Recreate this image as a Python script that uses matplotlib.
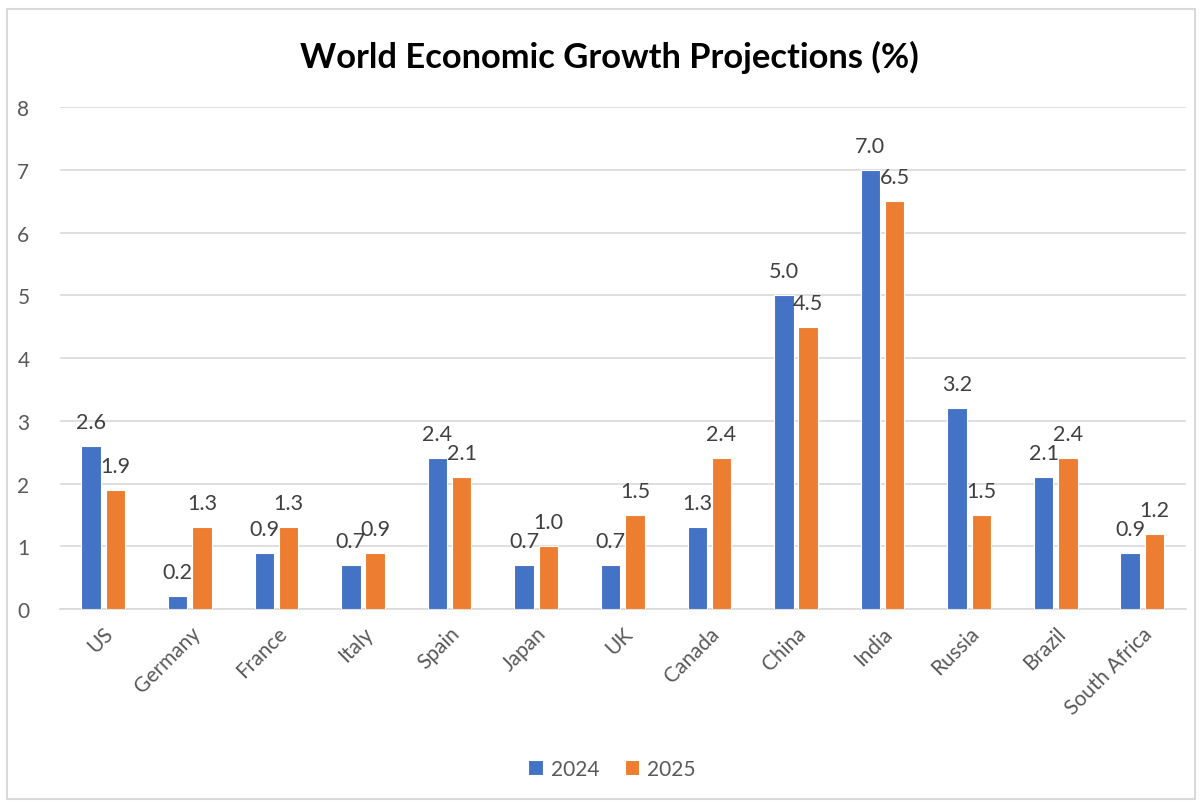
import matplotlib
matplotlib.use("Agg")
import matplotlib.pyplot as plt
import matplotlib.patches as mpatches
import numpy as np

countries = ["US", "Germany", "France", "Italy", "Spain", "Japan", "UK",
             "Canada", "China", "India", "Russia", "Brazil", "South Africa"]
growth_2024 = [2.6, 0.2, 0.9, 0.7, 2.4, 0.7, 0.7, 1.3, 5.0, 7.0, 3.2, 2.1, 0.9]
growth_2025 = [1.9, 1.3, 1.3, 0.9, 2.1, 1.0, 1.5, 2.4, 4.5, 6.5, 1.5, 2.4, 1.2]
series_names = ["2024", "2025"]

plt.rcParams['font.family'] = ['Lato', 'DejaVu Sans']

fig = plt.figure(figsize=(12, 8.03), dpi=100)
ax = fig.add_axes([0.05, 0.2403, 0.938, 0.6252])

# light outer border like the chart area frame
fig.patches.append(mpatches.Rectangle((0.006, 0.004), 0.99, 0.983, transform=fig.transFigure,
                                      fill=False, edgecolor='#d9d9d9', lw=1.5))

x = np.arange(len(countries))
w = 0.225
off = 0.14
b1 = ax.bar(x - off, growth_2024, w, color='#4472C4', edgecolor='white', lw=0.8, label=series_names[0], zorder=3)
b2 = ax.bar(x + off, growth_2025, w, color='#ED7D31', edgecolor='white', lw=0.8, label=series_names[1], zorder=3)

for bars, vals in ((b1, growth_2024), (b2, growth_2025)):
    for r, v in zip(bars, vals):
        ax.annotate(f"{v:.1f}", (r.get_x() + r.get_width() / 2, v), xytext=(0, 13),
                    textcoords='offset points', ha='center', va='baseline',
                    fontsize=15.5, color='#404040', zorder=4)

ax.set_ylim(0, 8)
ax.set_xlim(-0.5, len(countries) - 0.5)
ax.set_yticks(range(0, 9))
ax.grid(axis='y', color='#d9d9d9', lw=1.2, zorder=0)
ax.set_axisbelow(True)
for s in ['top', 'right', 'left']:
    ax.spines[s].set_visible(False)
ax.spines['bottom'].set_color('#d9d9d9')
ax.spines['bottom'].set_linewidth(1.2)
ax.tick_params(axis='y', length=0, pad=22, labelsize=15, labelcolor='#595959')
ax.tick_params(axis='x', length=0, pad=10, labelsize=15, labelcolor='#595959')
ax.set_xticks(x)
ax.set_xticklabels(countries, rotation=45, ha='right', rotation_mode='anchor')

fig.text(0.508, 0.928, "World Economic Growth Projections (%)", ha='center', va='center',
         fontsize=24.8, fontweight='bold', color='black')

fig.legend(handles=[b1, b2], labels=series_names, loc='center', bbox_to_anchor=(0.51, 0.041),
           ncol=2, frameon=False, fontsize=15, handlelength=0.7, handleheight=0.7,
           handletextpad=0.4, columnspacing=1.2, labelcolor='#595959')

fig.savefig("out.png", dpi=100)
